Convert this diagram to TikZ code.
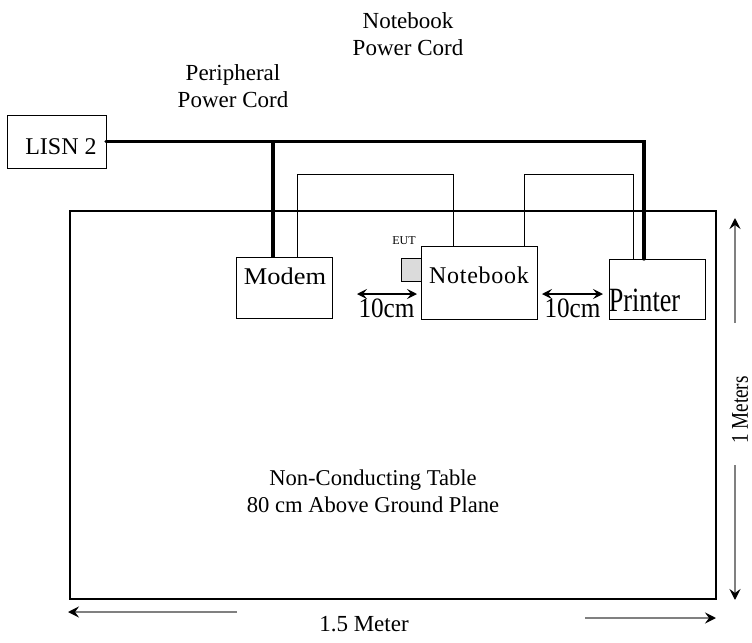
\documentclass[tikz,border=0pt]{standalone}
\usepackage{fontspec}
\setmainfont{Liberation Serif}
\usetikzlibrary{arrows.meta}

\begin{document}
\begin{tikzpicture}[x=0.5pt, y=-0.5pt,
  box/.style={draw, line width=0.5pt, inner sep=0pt, outer sep=0pt},
  cord/.style={line width=1.6pt},
  wire/.style={line width=0.5pt},
  dimline/.style={gray, line width=0.8pt, -{Stealth[black, length=5.5pt, width=5.5pt, inset=2pt]}},
  gapline/.style={line width=0.6pt, {Stealth[length=5pt, width=5pt, inset=2pt]}-{Stealth[length=5pt, width=5pt, inset=2pt]}},
  lbl/.style={inner sep=0pt, align=center}]
\useasboundingbox (0,0) rectangle (752,643);

% Table
\node[box, line width=1.1pt, minimum width=323pt, minimum height=194pt] (table) at (393,405) {};
\node[lbl, font=\fontsize{11.3}{13.5}\selectfont] (tabletxt) at (373,491.5)
  {Non-Conducting Table\\80 cm Above Ground Plane};

% Units
\node[box, minimum width=49pt, minimum height=26.5pt] (lisn) at (57,141.5) {};
\node[lbl, font=\fontsize{12}{14}\selectfont] (lisntxt) at (61,147) {LISN 2};
\node[box, minimum width=48pt, minimum height=30.5pt] (modem) at (284,287.5) {};
\node[lbl, font=\fontsize{12}{14}\selectfont] (modemtxt) at (285,276) {\scalebox{1.1}[1]{Modem}};
\node[box, minimum width=58pt, minimum height=36.5pt] (notebook) at (479,282.5) {};
\node[lbl, font=\fontsize{12}{14}\selectfont\addfontfeature{LetterSpace=3}] (notebooktxt) at (479,275) {Notebook};
\node[box, fill=gray!28, minimum width=10pt, minimum height=11.5pt] (eut) at (411,269.5) {};
\node[lbl, font=\fontsize{6}{7}\selectfont] (euttxt) at (404,241) {EUT};
\node[box, minimum width=48pt, minimum height=30pt] (printer) at (657,289) {};
\node[lbl, font=\fontsize{17}{19}\selectfont] (printertxt) at (644.5,300.5) {\scalebox{0.77}[1]{Printer}};

% Power cords
\node[lbl, font=\fontsize{11.5}{13.5}\selectfont] (nbcord) at (408,34.5) {Notebook\\Power Cord};
\node[lbl, font=\fontsize{11.5}{13.5}\selectfont] (pcord) at (233,86.5) {Peripheral\\Power Cord};
\coordinate (pend) at (644,141.5);
\coordinate (mtap) at (273,141.5);
\draw[cord, line cap=round] (lisn.east) -- (pend) -- (pend |- printer.north);
\draw[cord] (mtap) -- (mtap |- modem.north);

% Data cables
\coordinate (wa1) at (297,174);
\coordinate (wa2) at (453,174);
\coordinate (wb1) at (524,174);
\coordinate (wb2) at (633,174);
\draw[wire] (wa1 |- modem.north) -- (wa1) -- (wa2) -- (wa2 |- notebook.north);
\draw[wire] (wb1 |- notebook.north) -- (wb1) -- (wb2) -- (wb2 |- printer.north);

% Spacing
\coordinate (ga1) at (357,294);
\coordinate (ga2) at (417,294);
\coordinate (gb1) at (542,294);
\coordinate (gb2) at (603,294);
\draw[gapline] (ga1) -- (ga2);
\draw[gapline] (gb1) -- (gb2);
\node[lbl, font=\fontsize{14}{16}\selectfont] (gaptxta) at (386.5,308) {\scalebox{0.9}[1]{10cm}};
\node[lbl, font=\fontsize{14}{16}\selectfont] (gaptxtb) at (572.5,308) {\scalebox{0.9}[1]{10cm}};

% Table size
\coordinate (w1) at (237,612);
\coordinate (w2) at (68,612);
\coordinate (w3) at (585,618);
\coordinate (w4) at (716,618);
\draw[dimline] (w1) -- (w2);
\draw[dimline] (w3) -- (w4);
\node[lbl, font=\fontsize{11.5}{13}\selectfont] (widthtxt) at (364,624) {1.5 Meter};
\coordinate (h1) at (735,323);
\coordinate (h2) at (735,218);
\coordinate (h3) at (735,465);
\coordinate (h4) at (735,600);
\draw[dimline] (h1) -- (h2);
\draw[dimline] (h3) -- (h4);
\node[lbl, rotate=90, font=\fontsize{12}{13}\selectfont] (heighttxt) at (740,410) {\scalebox{0.8}[1]{1 Meters}};
\end{tikzpicture}
\end{document}
